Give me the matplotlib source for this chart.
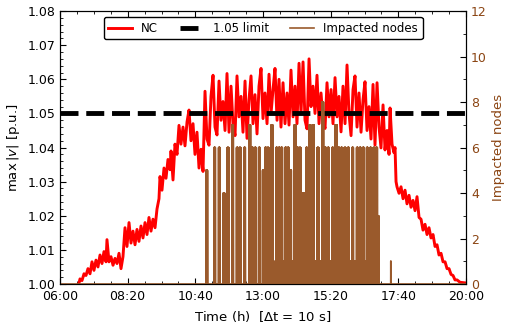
import numpy as np
import matplotlib
matplotlib.use("Agg")
import matplotlib.pyplot as plt
from matplotlib.ticker import AutoMinorLocator, MultipleLocator, FixedLocator

# NC max voltage (time in minutes after 06:00)
nc_min = [37.2, 41.4, 45.5, 49.7, 53.8, 57.9, 62.1, 66.2, 70.3, 74.5, 78.6, 82.8,
          86.9, 91.0, 95.2, 97.2, 101.4, 105.5, 109.7, 113.8, 117.9, 122.1, 126.2,
          130.3, 134.5, 138.6, 142.8, 146.9, 151.0, 155.2, 159.3, 163.4, 167.6,
          171.7, 175.9, 180.0, 184.1, 188.3, 192.4, 196.6, 200.7, 204.8, 206.9,
          211.0, 215.2, 219.3, 223.4, 227.6, 229.7, 233.8, 237.9, 242.1, 246.2,
          250.3, 254.5, 258.6, 262.8, 266.9, 271.0, 275.2, 279.3, 283.4, 287.6,
          291.7, 295.9, 300.0, 304.1, 308.3,
          312.4, 316.6, 320.7, 324.8, 329.0, 333.1, 337.2, 341.4, 345.5, 349.7,
          353.8, 357.9, 362.1, 366.2, 370.3, 374.5, 378.6, 382.8, 386.9, 391.0,
          395.2, 399.3, 403.4, 407.6, 411.7, 415.9, 420.0, 424.1, 428.3, 432.4,
          436.6, 440.7, 444.8, 449.0, 453.1, 457.2, 461.4, 465.5, 469.7, 473.8,
          477.9, 482.1, 486.2, 490.3, 494.5, 498.6, 502.8, 506.9, 511.0, 515.2,
          519.3, 523.4, 527.6, 531.7, 535.9, 540.0, 544.1, 548.3, 552.4, 556.6,
          560.7, 564.8, 569.0, 573.1, 577.2, 581.4, 585.5, 589.7, 593.8, 597.9,
          602.1, 606.2, 610.3, 614.5, 618.6, 622.8, 626.9, 631.0, 635.2, 639.3,
          643.4, 647.6, 651.7, 655.9, 660.0, 664.1, 668.3, 672.4, 676.6, 680.7,
          682.8, 686.9, 691.0, 693.1, 695.2, 697.2, 701.4, 705.5, 709.7, 713.8,
          717.9, 722.1, 726.2, 730.3, 734.5, 738.6, 742.8, 746.9, 751.0, 755.2,
          759.3, 763.4, 767.6, 771.7, 775.9, 780.0, 784.1, 788.3, 792.4, 796.6,
          800.7, 804.8, 809.0, 813.1, 817.2, 821.4, 827.6, 833.8, 840.0]
nc_v = [0.9990, 1.0015, 1.0010, 1.0030, 1.0025, 1.0045, 1.0030, 1.0065, 1.0040, 1.0070,
        1.0050, 1.0085, 1.0060, 1.0095, 1.0065, 1.0130, 1.0065, 1.0080, 1.0055, 1.0075,
        1.0060, 1.0090, 1.0045, 1.0080, 1.0165, 1.0110, 1.0180, 1.0120, 1.0155, 1.0115,
        1.0160, 1.0125, 1.0170, 1.0135, 1.0180, 1.0145, 1.0195, 1.0155, 1.0190, 1.0165,
        1.0220, 1.0250, 1.0315, 1.0275, 1.0340, 1.0310, 1.0365, 1.0335, 1.0390, 1.0305,
        1.0410, 1.0380, 1.0465, 1.0410, 1.0460, 1.0405, 1.0475, 1.0510, 1.0420, 1.0470,
        1.0380, 1.0445, 1.0340, 1.0395, 1.0330, 1.0565, 1.0425, 1.0407,
        1.0550, 1.0612, 1.0460, 1.0437, 1.0595, 1.0480, 1.0535, 1.0450, 1.0617, 1.0445,
        1.0580, 1.0470, 1.0435, 1.0610, 1.0490, 1.0550, 1.0445, 1.0595, 1.0427, 1.0540,
        1.0610, 1.0470, 1.0555, 1.0440, 1.0580, 1.0632, 1.0485, 1.0560, 1.0470, 1.0615,
        1.0500, 1.0570, 1.0632, 1.0480, 1.0600, 1.0460, 1.0590, 1.0470, 1.0560, 1.0466,
        1.0627, 1.0490, 1.0580, 1.0470, 1.0647, 1.0500, 1.0651, 1.0480, 1.0455, 1.0660,
        1.0520, 1.0580, 1.0500, 1.0612, 1.0470, 1.0560, 1.0480, 1.0456, 1.0590, 1.0490,
        1.0570, 1.0470, 1.0605, 1.0490, 1.0550, 1.0446, 1.0580, 1.0470, 1.0642, 1.0500,
        1.0435, 1.0570, 1.0610, 1.0460, 1.0560, 1.0445, 1.0540, 1.0593, 1.0450, 1.0520,
        1.0425, 1.0585, 1.0407, 1.0590, 1.0460, 1.0399, 1.0525, 1.0393, 1.0450, 1.0380,
        1.0516, 1.0410, 1.0385, 1.0400, 1.0300, 1.0285, 1.0266, 1.0285, 1.0250, 1.0275,
        1.0235, 1.0260, 1.0225, 1.0245, 1.0215, 1.0256, 1.0195, 1.0190, 1.0158, 1.0175,
        1.0145, 1.0165, 1.0135, 1.0145, 1.0110, 1.0115, 1.0085, 1.0090, 1.0065, 1.0065,
        1.0045, 1.0045, 1.0028, 1.0025, 1.0012, 1.0012, 1.0005, 1.0004, 1.0003]

# impacted nodes: stretches (start min, end min, level) in which the count
# switches between 0 and the level at every 10 s step
node_low = [(444.8, 480.8, 1), (489.3, 512.0, 1), (523.4, 575.2, 1), (581.4, 658.0, 1)]
node_bars = [(302.0, 305.0, 5), (318.6, 321.6, 6), (328.1, 331.1, 6), (337.8, 340.8, 4),
             (346.1, 349.1, 6), (355.8, 358.8, 7), (365.3, 368.3, 6), (370.9, 373.9, 6),
             (380.6, 383.6, 6), (391.0, 394.0, 7), (396.5, 399.5, 6), (402.6, 405.6, 6),
             (410.9, 413.9, 6), (419.1, 422.1, 5), (424.0, 427.0, 6), (428.9, 431.9, 6),
             (437.1, 440.1, 7), (446.9, 449.9, 6), (452.0, 455.0, 6), (457.2, 460.2, 6),
             (465.5, 468.5, 6), (470.5, 473.5, 6), (475.8, 478.8, 5), (484.7, 487.7, 7),
             (490.0, 493.0, 6), (495.1, 498.1, 6), (501.9, 504.9, 4), (508.9, 511.9, 6),
             (515.7, 518.7, 7), (522.6, 525.6, 7), (532.3, 535.3, 6), (542.0, 545.0, 8),
             (547.5, 550.5, 6), (553.6, 556.6, 6), (562.7, 565.7, 6), (569.5, 572.5, 7),
             (575.5, 578.5, 6), (581.3, 584.3, 6), (588.2, 591.2, 6), (595.0, 598.0, 6),
             (604.1, 607.1, 6), (613.6, 616.6, 6), (619.5, 622.5, 6), (626.0, 629.0, 6),
             (634.3, 637.3, 6), (641.3, 644.3, 6), (648.2, 651.2, 6), (653.8, 656.8, 6),
             (658.5, 659.2, 3), (684.2, 684.8, 1)]

limit = 1.05

# 10 s grid for the node count
t_nodes = np.arange(0, 840 * 6 + 1) / 6.0
nodes = np.zeros_like(t_nodes)
for a, b, lev in node_low + node_bars:
    idx = np.where((t_nodes >= a) & (t_nodes <= b))[0]
    nodes[idx[::2]] = lev
    if lev > 1:
        nodes[idx[1::2]] = 0

t_nc = 6 + np.array(nc_min) / 60.0
t_nd = 6 + t_nodes / 60.0

brown = '#9a5a2c'
fig = plt.figure(figsize=(5.11, 3.27), dpi=100)
ax = fig.add_axes([0.1174, 0.1315, 0.7946, 0.8345])
ax2 = ax.twinx()

l1, = ax.plot(t_nc, nc_v, color='red', lw=2.1, label='NC')
l2 = ax.axhline(limit, color='black', lw=3.5, ls='--', label='1.05 limit')
l3, = ax2.plot(t_nd, nodes, color=brown, lw=1.2, label='Impacted nodes')

ax.set_xlim(6, 20)
ax.set_ylim(1.0, 1.08)
ax2.set_ylim(0, 12)

xt = 6 + np.arange(7) * 7 / 3.0
ax.xaxis.set_major_locator(FixedLocator(xt))
labs = []
for h in xt:
    hh, mm = divmod(int(round(h * 60)), 60)
    labs.append('{:02d}:{:02d}'.format(hh, mm))
ax.set_xticklabels(labs)
ax.xaxis.set_minor_locator(AutoMinorLocator(4))
ax.yaxis.set_major_locator(MultipleLocator(0.01))
ax.yaxis.set_minor_locator(MultipleLocator(0.002))
ax2.yaxis.set_major_locator(MultipleLocator(2))
ax2.yaxis.set_minor_locator(MultipleLocator(1))

ax.tick_params(which='both', direction='in', top=True, right=False, labelsize=9)
ax.tick_params(axis='x', pad=4.5)
ax.tick_params(which='major', length=4)
ax.tick_params(which='minor', length=2)
ax2.tick_params(which='both', direction='in', labelsize=9, labelcolor='saddlebrown')
ax2.tick_params(which='major', length=4)
ax2.tick_params(which='minor', length=2)

ax.set_xlabel('Time (h)  [$\\Delta$t = 10 s]', fontsize=9.5)
ax.set_ylabel('$\\max\\,|v|$ [p.u.]', fontsize=9.5)
ax2.set_ylabel('Impacted nodes', fontsize=9.5, color='saddlebrown')

leg = ax2.legend([l1, l2, l3], ['NC', '1.05 limit', 'Impacted nodes'],
                 loc='upper center', ncol=3, fontsize=8.5, fancybox=True,
                 framealpha=1, edgecolor='black', columnspacing=1.8)
leg.get_frame().set_linewidth(1.0)

fig.savefig('out.png', dpi=100)
